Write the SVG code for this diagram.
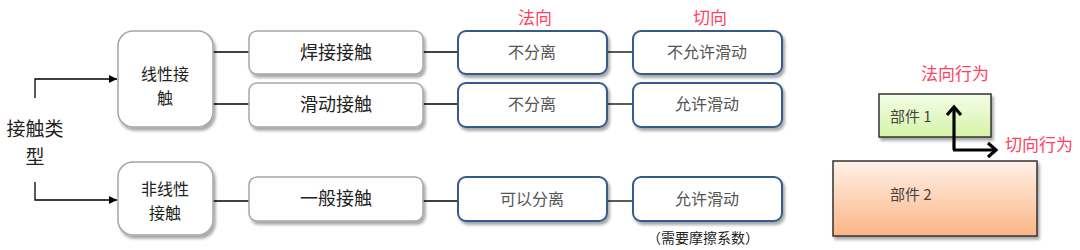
<svg xmlns="http://www.w3.org/2000/svg" width="1080" height="250" viewBox="0 0 1080 250">
<defs>
<filter id="sh" x="-20%" y="-20%" width="150%" height="160%">
<feGaussianBlur in="SourceAlpha" stdDeviation="1.5"/>
<feOffset dx="2" dy="3" result="b"/>
<feComponentTransfer><feFuncA type="linear" slope="0.35"/></feComponentTransfer>
<feMerge><feMergeNode/><feMergeNode in="SourceGraphic"/></feMerge>
</filter>
<marker id="ah" viewBox="0 0 10 10" refX="10" refY="5" markerWidth="8" markerHeight="8" markerUnits="userSpaceOnUse" orient="auto"><path d="M0,0 L10,5 L0,10 z" fill="#000"/></marker>
<linearGradient id="gG" x1="0" y1="0" x2="0" y2="1"><stop offset="0" stop-color="#f3fde6"/><stop offset="1" stop-color="#d6f3a8"/></linearGradient>
<linearGradient id="gO" x1="0" y1="0" x2="0" y2="1"><stop offset="0" stop-color="#fff1e8"/><stop offset="1" stop-color="#fbb585"/></linearGradient>
<style>
.gb{fill:#fff;stroke:#a6a6a6;stroke-width:1.5;filter:url(#sh)}
.bb{fill:#fff;stroke:#345a8c;stroke-width:2;filter:url(#sh)}
.t{font-family:"Noto Sans CJK SC",sans-serif;fill:#222;text-anchor:middle}
.gt{font-size:18px}
.gt2{font-size:16px}
.bt{font-size:16px;fill:#555}
.red{font-family:"Noto Sans CJK SC",sans-serif;fill:#ff3f5f;font-size:17px}
.ln{stroke:#000;stroke-width:1.3;fill:none}
.part{stroke:#333;stroke-width:1.5}
.pt{font-family:"Noto Sans CJK SC",sans-serif;font-size:15px;fill:#444}
</style>
</defs>

<text class="t" x="35" y="136" font-size="19">接触类</text>
<text class="t" x="35" y="164" font-size="19">型</text>

<g id="connectors">
<path class="ln" d="M35,98 V79 H117" marker-end="url(#ah)"/>
<path class="ln" d="M35,182 V200 H117" marker-end="url(#ah)"/>
<path class="ln" d="M213,52 H249"/>
<path class="ln" d="M213,104 H249"/>
<path class="ln" d="M213,201 H249"/>
<path class="ln" d="M423,52 H458"/>
<path class="ln" d="M423,104 H458"/>
<path class="ln" d="M423,201 H458"/>
<path class="ln" d="M607,52 H633"/>
<path class="ln" d="M607,104 H633"/>
<path class="ln" d="M607,201 H633"/>
</g>

<g id="linear"><rect class="gb" x="118" y="31" width="95" height="96" rx="15"/>
<text class="t gt2" x="165" y="80">线性接</text><text class="t gt2" x="165" y="104">触</text></g>
<g id="nonlinear"><rect class="gb" x="118" y="162" width="95" height="73" rx="15"/>
<text class="t gt2" x="165" y="195">非线性</text><text class="t gt2" x="165" y="219">接触</text></g>

<g id="weld"><rect class="gb" x="249" y="31" width="174" height="43" rx="8"/><text class="t gt" x="336" y="59">焊接接触</text></g>
<g id="slide"><rect class="gb" x="249" y="83" width="174" height="44" rx="8"/><text class="t gt" x="336" y="111">滑动接触</text></g>
<g id="general"><rect class="gb" x="249" y="177" width="174" height="44" rx="8"/><text class="t gt" x="336" y="205">一般接触</text></g>

<text class="red" x="535" y="24" text-anchor="middle">法向</text>
<text class="red" x="710" y="24" text-anchor="middle">切向</text>

<g id="n1"><rect class="bb" x="458" y="31" width="149" height="43" rx="8"/><text class="t bt" x="532" y="58">不分离</text></g>
<g id="n2"><rect class="bb" x="458" y="83" width="149" height="44" rx="8"/><text class="t bt" x="532" y="110">不分离</text></g>
<g id="n3"><rect class="bb" x="458" y="177" width="149" height="44" rx="8"/><text class="t bt" x="532" y="205">可以分离</text></g>
<g id="t1"><rect class="bb" x="633" y="31" width="149" height="43" rx="8"/><text class="t bt" x="707" y="58">不允许滑动</text></g>
<g id="t2"><rect class="bb" x="633" y="83" width="149" height="44" rx="8"/><text class="t bt" x="707" y="110">允许滑动</text></g>
<g id="t3"><rect class="bb" x="633" y="177" width="149" height="44" rx="8"/><text class="t bt" x="707" y="205">允许滑动</text></g>
<text class="t" x="703" y="243" font-size="14" fill="#333">（需要摩擦系数）</text>

<g id="part2"><rect class="part" x="833" y="161" width="204" height="75" fill="url(#gO)" filter="url(#sh)"/><text class="pt" x="890" y="200">部件 2</text></g>
<g id="part1"><rect class="part" x="879" y="94" width="112" height="43" fill="url(#gG)" filter="url(#sh)"/><text class="pt" x="890" y="122">部件 1</text></g>
<g id="axes" fill="none" stroke="#000" stroke-width="3.2" stroke-linejoin="miter">
<path d="M954,150 V107"/><path d="M947,115 L954,107 L961,115"/>
<path d="M953,150 H996"/><path d="M988,143 L996,150 L988,157"/>
</g>
<text class="red" x="955" y="80" text-anchor="middle" font-size="16">法向行为</text>
<text class="red" x="1005" y="151" font-size="16">切向行为</text>
</svg>
